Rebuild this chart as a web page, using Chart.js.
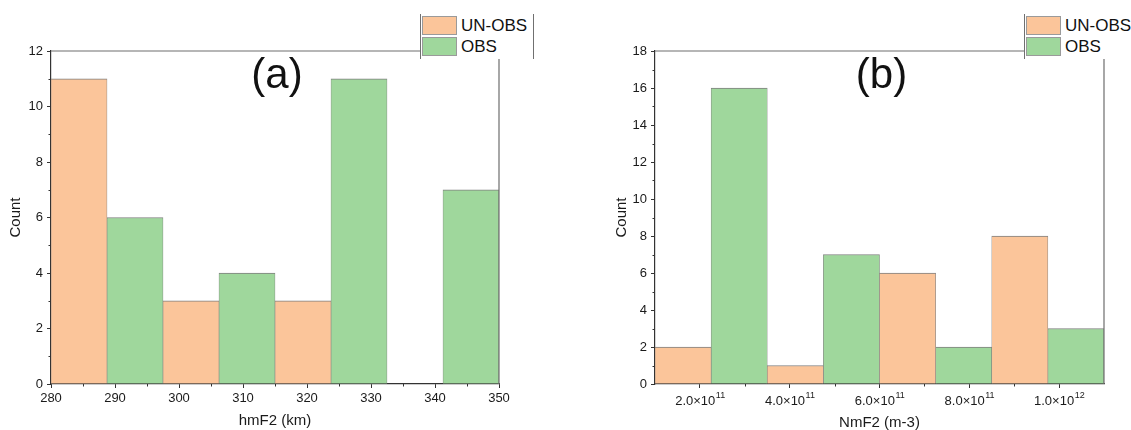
<!DOCTYPE html>
<html>
<head>
<meta charset="utf-8">
<title>hmF2 / NmF2 histograms</title>
<script src="https://cdn.jsdelivr.net/npm/chart.js@4.4.1/dist/chart.umd.min.js"></script>
<style>
  html, body { margin: 0; padding: 0; background: #fff; }
  body {
    width: 1131px;
    height: 430px;
    position: relative;
    overflow: hidden;
    font-family: 'Liberation Sans', Arial, sans-serif;
  }
  .panel { position: absolute; top: 0; height: 430px; }
  #panel-a { left: 0; width: 560px; }
  #panel-b { left: 560px; width: 571px; }
  .legend {
    position: absolute;
    top: 14px;
    width: 112px;
    height: 45px;
    background: #fff;
    border-left: 1px solid #707070;
    border-right: 1px solid #707070;
  }
  #legend-a { left: 420px; }
  #legend-b { left: 1024px; }
  .legend-row {
    position: absolute;
    left: 1px;
    height: 19px;
    display: flex;
    align-items: center;
  }
  .swatch { width: 35px; height: 19px; box-sizing: border-box; border: 1px solid #9a9a9a; }
  .legend-label { margin-left: 4px; font-size: 17px; color: #111; white-space: nowrap; }
</style>
</head>
<body>
<div class="panel" id="panel-a"><canvas id="chart-a"></canvas></div>
<div class="panel" id="panel-b"><canvas id="chart-b"></canvas></div>
<div class="legend" id="legend-a"></div>
<div class="legend" id="legend-b"></div>

<script>
  // Panel (a): hmF2 histogram, bin edges in km and counts per bin
  const hmF2Edges = [280, 288.75, 297.5, 306.25, 315, 323.75, 332.5, 341.25, 350];
  const hmF2UnObs = [11, null, 3, null, 3, null, 0, null];
  const hmF2Obs = [null, 6, null, 4, null, 11, null, 7];
  const hmF2Ticks = [280, 290, 300, 310, 320, 330, 340, 350];
  const countTicksA = [0, 2, 4, 6, 8, 10, 12];

  // Panel (b): NmF2 histogram, bin edges in m-3
  const nmF2Edges = [1.0e11, 2.25e11, 3.5e11, 4.75e11, 6.0e11, 7.25e11, 8.5e11, 9.75e11, 1.1e12];
  const nmF2UnObs = [2, null, 1, null, 6, null, 8, null];
  const nmF2Obs = [null, 16, null, 7, null, 2, null, 3];
  const nmF2Ticks = [2e11, 4e11, 6e11, 8e11, 1e12];
  const nmF2TickBase = ['2.0×10', '4.0×10', '6.0×10', '8.0×10', '1.0×10'];
  const nmF2TickExp = ['11', '11', '11', '11', '12'];
  const countTicksB = [0, 2, 4, 6, 8, 10, 12, 14, 16, 18];

  const seriesNames = ['UN-OBS', 'OBS'];
  const panelTags = ['(a)', '(b)'];

  const colors = {
    unObs: '#fbc59a',
    obs: '#9fd79c',
    edge: '#7f7f7f',
    axis: '#333333',
    frame: '#6e6e6e',
    text: '#1a1a1a',
  };
  const fontFamily = "'Liberation Sans', Arial, sans-serif";

  // Turn bin edges + counts into bar points at bin centres (empty bins draw nothing)
  const toPoints = (edges, counts) =>
    counts
      .map((c, i) => (c ? { x: (edges[i] + edges[i + 1]) / 2, y: c } : null))
      .filter(Boolean);

  // Frame (top/right), minor ticks, power-of-ten labels and the panel letter
  const panelDecor = {
    id: 'panelDecor',
    afterDraw(chart, args, opts) {
      const { ctx, chartArea: a, scales } = chart;
      const { x, y } = scales;
      ctx.save();

      ctx.strokeStyle = colors.frame;
      ctx.lineWidth = 1.2;
      ctx.beginPath();
      ctx.moveTo(a.left, a.top);
      ctx.lineTo(a.right, a.top);
      ctx.lineTo(a.right, a.bottom);
      ctx.stroke();

      const mids = (s) => s.ticks.slice(1).map((t, i) => (t.value + s.ticks[i].value) / 2);
      ctx.strokeStyle = colors.axis;
      ctx.lineWidth = 1;
      ctx.beginPath();
      mids(x).forEach((v) => {
        const px = Math.round(x.getPixelForValue(v)) + 0.5;
        ctx.moveTo(px, a.bottom);
        ctx.lineTo(px, a.bottom + 2.5);
      });
      mids(y).forEach((v) => {
        const py = Math.round(y.getPixelForValue(v)) + 0.5;
        ctx.moveTo(a.left, py);
        ctx.lineTo(a.left - 2.5, py);
      });
      ctx.stroke();

      // Tick labels with a raised exponent (×10^n)
      if (opts.expLabels) {
        ctx.fillStyle = colors.text;
        ctx.textAlign = 'left';
        ctx.textBaseline = 'alphabetic';
        x.ticks.forEach((t, i) => {
          const base = opts.baseLabels[i];
          const exp = opts.expLabels[i];
          ctx.font = `13px ${fontFamily}`;
          const wb = ctx.measureText(base).width;
          ctx.font = `9px ${fontFamily}`;
          const we = ctx.measureText(exp).width;
          const left = x.getPixelForValue(t.value) - (wb + we) / 2;
          ctx.font = `13px ${fontFamily}`;
          ctx.fillText(base, left, a.bottom + 21);
          ctx.font = `9px ${fontFamily}`;
          ctx.fillText(exp, left + wb + 0.5, a.bottom + 14);
        });
      }

      ctx.fillStyle = '#111';
      ctx.font = `42px ${fontFamily}`;
      ctx.textAlign = 'center';
      ctx.textBaseline = 'alphabetic';
      ctx.fillText(opts.tag, (a.left + a.right) / 2 + 2, a.top + 37);
      ctx.restore();
    },
  };

  const barDataset = (label, data, color) => ({
    label,
    data,
    backgroundColor: color,
    borderColor: colors.edge,
    borderWidth: { top: 1, left: 0.6, right: 0.6, bottom: 0 },
    borderSkipped: false,
    grouped: false,
    barPercentage: 1,
    categoryPercentage: 1,
  });

  const makeChart = (canvasId, p) =>
    new Chart(document.getElementById(canvasId), {
      type: 'bar',
      data: {
        datasets: [
          barDataset(seriesNames[0], toPoints(p.edges, p.unObs), colors.unObs),
          barDataset(seriesNames[1], toPoints(p.edges, p.obs), colors.obs),
        ],
      },
      plugins: [panelDecor],
      options: {
        responsive: true,
        maintainAspectRatio: false,
        animation: false,
        devicePixelRatio: 1,
        layout: { padding: { left: p.padLeft, top: 51, right: p.padRight, bottom: 0 } },
        plugins: {
          legend: { display: false },
          tooltip: { enabled: false },
          panelDecor: { tag: p.tag, baseLabels: p.baseLabels, expLabels: p.expLabels },
        },
        scales: {
          x: {
            type: 'linear',
            z: 1, // axis line on top of the bars
            min: p.edges[0],
            max: p.edges[p.edges.length - 1],
            offset: false,
            afterBuildTicks: (scale) => {
              scale.ticks = p.xTicks.map((v) => ({ value: v }));
            },
            afterFit: (scale) => {
              scale.height = 46;
            },
            grid: { drawOnChartArea: false, drawTicks: true, tickLength: 4, offset: false, color: colors.axis },
            border: { display: true, color: colors.axis, width: 1.2 },
            ticks: {
              display: !p.expLabels,
              autoSkip: false,
              maxRotation: 0,
              padding: 3,
              color: colors.text,
              font: { family: fontFamily, size: 13 },
            },
            title: {
              display: true,
              text: p.xTitle,
              color: colors.text,
              font: { family: fontFamily, size: 15 },
              padding: { top: 0, bottom: p.xTitlePad },
            },
          },
          y: {
            z: 1,
            min: 0,
            max: p.yTicks[p.yTicks.length - 1],
            afterBuildTicks: (scale) => {
              scale.ticks = p.yTicks.map((v) => ({ value: v }));
            },
            afterFit: (scale) => {
              scale.width = p.yWidth;
            },
            grid: { drawOnChartArea: false, drawTicks: true, tickLength: 4, color: colors.axis },
            border: { display: true, color: colors.axis, width: 1.2 },
            ticks: {
              padding: 4,
              color: colors.text,
              font: { family: fontFamily, size: 13 },
            },
            title: {
              display: true,
              text: 'Count',
              color: colors.text,
              font: { family: fontFamily, size: 15 },
              padding: { top: 7, bottom: 0 },
            },
          },
        },
      },
    });

  // Legend boxes sit over the top-right corner of each frame
  const buildLegend = (id) => {
    const box = document.getElementById(id);
    [colors.unObs, colors.obs].forEach((color, i) => {
      const row = document.createElement('div');
      row.className = 'legend-row';
      row.style.top = i === 0 ? '2px' : '23px';
      const swatch = document.createElement('div');
      swatch.className = 'swatch';
      swatch.style.background = color;
      const label = document.createElement('span');
      label.className = 'legend-label';
      label.textContent = seriesNames[i];
      row.appendChild(swatch);
      row.appendChild(label);
      box.appendChild(row);
    });
  };

  makeChart('chart-a', {
    edges: hmF2Edges,
    unObs: hmF2UnObs,
    obs: hmF2Obs,
    xTicks: hmF2Ticks,
    yTicks: countTicksA,
    xTitle: 'hmF2 (km)',
    xTitlePad: 0,
    padLeft: 0,
    padRight: 61,
    yWidth: 51,
    tag: panelTags[0],
  });

  makeChart('chart-b', {
    edges: nmF2Edges,
    unObs: nmF2UnObs,
    obs: nmF2Obs,
    xTicks: nmF2Ticks,
    yTicks: countTicksB,
    baseLabels: nmF2TickBase,
    expLabels: nmF2TickExp,
    xTitle: 'NmF2 (m-3)',
    xTitlePad: -2,
    padLeft: 46,
    padRight: 27,
    yWidth: 49,
    tag: panelTags[1],
  });

  buildLegend('legend-a');
  buildLegend('legend-b');
</script>
</body>
</html>
